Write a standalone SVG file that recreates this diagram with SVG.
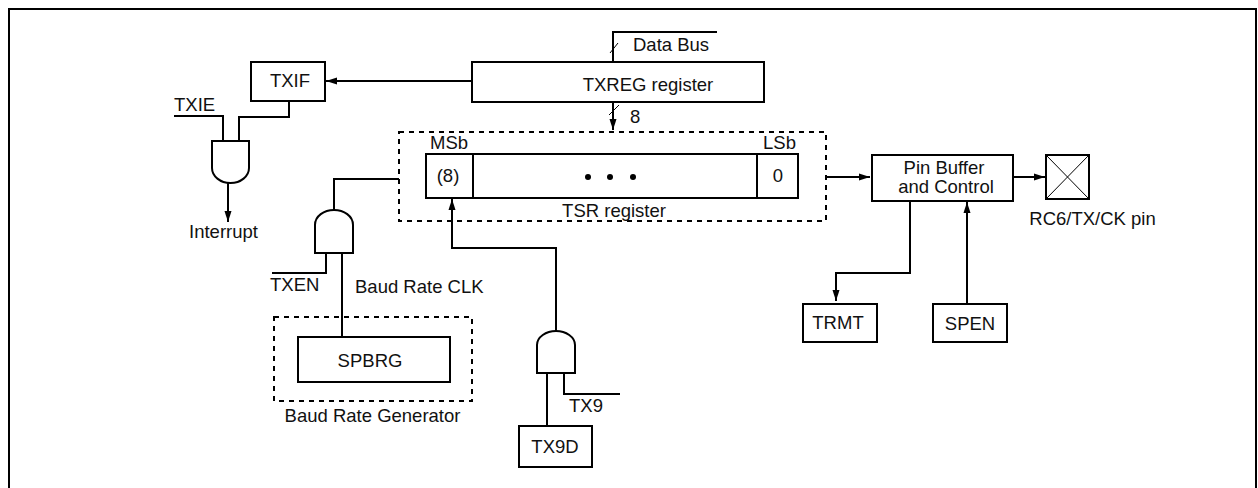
<svg xmlns="http://www.w3.org/2000/svg" width="1258" height="488" viewBox="0 0 1258 488">
<style>
text{font-family:"Liberation Sans",Arial,sans-serif;font-size:18.500px;fill:#111}
.m{text-anchor:middle}
.b{fill:#fff;stroke:#000;stroke-width:2}
.c{fill:none;stroke:#000;stroke-width:2}
.g{fill:none;stroke:#000;stroke-width:2}
.d{fill:none;stroke:#000;stroke-width:2;stroke-dasharray:5 5}
.t{fill:none;stroke:#000;stroke-width:1}
</style>
<defs>
<marker id="a" markerUnits="userSpaceOnUse" markerWidth="11" markerHeight="8" refX="11" refY="4" orient="auto"><path d="M0 0.500L11 4L0 7.500Z" fill="#000"/></marker>
</defs>
<rect width="1258" height="488" fill="#fff"/>
<path id="frame" d="M9 488V9H1256V488" class="c"/>
<g id="connectors">
<path class="c" marker-end="url(#a)" d="M472 81H326"/>
<path class="c" d="M174 116H223V141"/>
<path class="c" d="M289 101V117H239V141"/>
<path class="c" marker-end="url(#a)" d="M228 183V222"/>
<path class="c" d="M717 32H613V62"/>
<path class="t" d="M610 53L618 43"/>
<path class="c" marker-end="url(#a)" d="M613 102V130"/>
<path class="t" d="M609 115L619 105"/>
<path class="c" marker-end="url(#a)" d="M556 331V248H452V199"/>
<path class="c" d="M334 210V179H399"/>
<path class="c" d="M272 273H326V253"/>
<path class="c" d="M342 253V337"/>
<path class="c" d="M547 373V426"/>
<path class="c" d="M620 394H564V373"/>
<path class="c" marker-end="url(#a)" d="M826 177H870"/>
<path class="c" marker-end="url(#a)" d="M1011 177H1045"/>
<path class="c" marker-end="url(#a)" d="M910 201V273H836V301"/>
<path class="c" marker-end="url(#a)" d="M967 304V202"/>
</g>
<g id="txif"><rect class="b" x="251" y="62" width="74" height="39"/><text class="m" x="290" y="87">TXIF</text></g>
<text id="txie" x="174" y="111">TXIE</text>
<path id="and1" class="g" d="M212 141H249V168A18.500 15 0 0 1 212 168Z"/>
<text id="interrupt" x="223.500" y="238" class="m">Interrupt</text>
<g id="txreg"><rect class="b" x="472" y="62" width="292" height="40"/><text class="m" x="648" y="91">TXREG register</text></g>
<text id="databus" x="633" y="51">Data Bus</text>
<text id="n8" x="630" y="123">8</text>
<g id="tsr">
<rect class="d" x="399" y="132" width="427" height="89"/>
<rect class="b" x="426" y="154" width="372" height="44"/>
<path class="c" d="M473 153V198M757 153V198"/>
<text x="430" y="149">MSb</text>
<text x="763" y="149">LSb</text>
<text class="m" x="448" y="182">(8)</text>
<text class="m" x="778" y="182">0</text>
<circle cx="588" cy="177" r="3"/><circle cx="610" cy="177" r="3"/><circle cx="633" cy="177" r="3"/>
<text class="m" x="614" y="217">TSR register</text>
</g>
<path id="and2" class="g" d="M315 253V225C315 216 324 210 334 210S353 216 353 225V253Z"/>
<text id="txen" x="270" y="291">TXEN</text>
<text id="baudclk" x="355" y="293">Baud Rate CLK</text>
<g id="brg">
<rect class="d" x="274" y="317" width="198" height="84"/>
<rect class="b" x="298" y="337" width="152" height="45"/>
<text class="m" x="370" y="367">SPBRG</text>
<text class="m" x="372.500" y="422">Baud Rate Generator</text>
</g>
<path id="and3" class="g" d="M537 373V345C537 337 546 331 556 331S575 337 575 345V373Z"/>
<text id="tx9" x="569" y="412">TX9</text>
<g id="tx9d"><rect class="b" x="519" y="426" width="73" height="41"/><text class="m" x="555" y="453">TX9D</text></g>
<g id="pinbuf"><rect class="b" x="872" y="155" width="141" height="46"/><text class="m" x="944" y="174">Pin Buffer</text><text class="m" x="946" y="193">and Control</text></g>
<g id="pin"><rect class="b" x="1046" y="155" width="43" height="44"/><path class="t" d="M1046 155L1089 199M1089 155L1046 199"/><text class="m" x="1092.500" y="225">RC6/TX/CK pin</text></g>
<g id="trmt"><rect class="b" x="803" y="304" width="74" height="38"/><text class="m" x="838" y="329">TRMT</text></g>
<g id="spen"><rect class="b" x="933" y="304" width="74" height="38"/><text class="m" x="970" y="330">SPEN</text></g>
</svg>
